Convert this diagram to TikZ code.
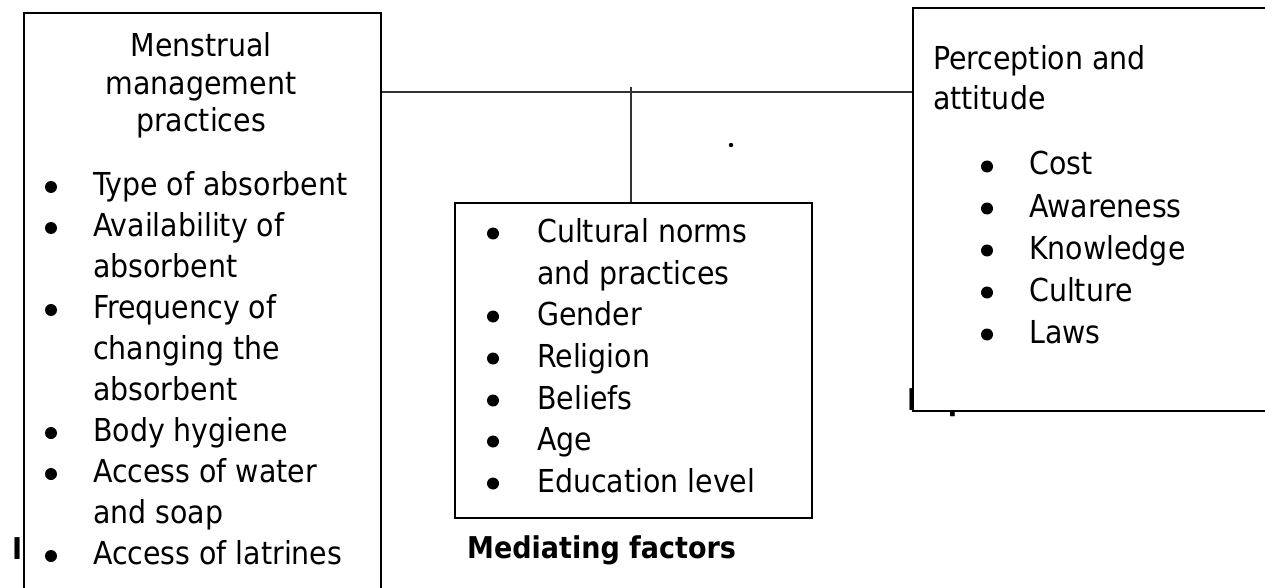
\documentclass[tikz,border=0pt]{standalone}
\usepackage{fontspec}
\setmainfont{DejaVu Sans Condensed}
\begin{document}
\begin{tikzpicture}[x=1pt,y=-1pt,
  box/.style={draw=black, line width=2pt, fill=white, inner sep=0pt, anchor=north west},
  txt/.style={anchor=base west, inner sep=0pt, font=\fontsize{31.6}{38}\selectfont},
  ctxt/.style={anchor=base, inner sep=0pt, font=\fontsize{31.6}{38}\selectfont},
  btxt/.style={anchor=base west, inner sep=0pt, font=\fontsize{30}{38}\selectfont\bfseries},
  conn/.style={line width=1.2pt, draw=black!80},
  bul/.style={fill=black, circle, inner sep=0pt, minimum size=12pt}
]
\useasboundingbox (0,0) rectangle (1265,588);
\clip (0,0) rectangle (1265,588);
% labels partly hidden behind the boxes
\node[btxt] (indep) at (12,559) {In};
\node[btxt] (dep) at (907,410) {Dep};
% boxes
\node[box, minimum width=357pt, minimum height=600pt] (L) at (23,12) {};
\node[box, minimum width=357pt, minimum height=315pt] (M) at (454,202) {};
\node[box, minimum width=400pt, minimum height=403pt] (R) at (912,7) {};
% connectors
\coordinate (hy) at (0,92);
\draw[conn] (L.east |- hy) -- (R.west |- hy);
\coordinate (vt) at (631,87);
\draw[conn] (vt) -- (vt |- M.north);
\fill (731,145) circle (2.2);
% left box
\node[ctxt] (lt1) at (201,57) {Menstrual};
\node[ctxt] (lt2) at (201,94.5) {management};
\node[ctxt] (lt3) at (201,132) {practices};
\foreach \y/\t [count=\i] in {195/Type of absorbent, 236/Availability of, 277/absorbent, 318/Frequency of, 359/changing the, 400/absorbent, 441/Body hygiene, 482/Access of water, 523/and soap, 564/Access of latrines}
  \node[txt] (ll\i) at (93,\y) {\t};
\foreach \y [count=\i] in {195,236,318,441,482,564}
  \node[bul] (lb\i) at (51,\y-8) {};
% middle box
\foreach \y/\t [count=\i] in {242/Cultural norms, 284/and practices, 325/Gender, 367/Religion, 409/Beliefs, 450/Age, 492/Education level}
  \node[txt] (ml\i) at (537,\y) {\t};
\foreach \y [count=\i] in {242,325,367,409,450,492}
  \node[bul] (mb\i) at (493,\y-8.5) {};
\node[btxt] (medf) at (467,558) {Mediating factors};
% right box
\node[txt] (rt1) at (933,70) {Perception and};
\node[txt] (rt2) at (933,110) {attitude};
\foreach \y/\t [count=\i] in {175/Cost, 217/Awareness, 259/Knowledge, 301/Culture, 343/Laws}
  \node[txt] (rl\i) at (1029,\y) {\t};
\foreach \y [count=\i] in {175,217,259,301,343}
  \node[bul] (rb\i) at (987,\y-8.5) {};
\end{tikzpicture}
\end{document}
